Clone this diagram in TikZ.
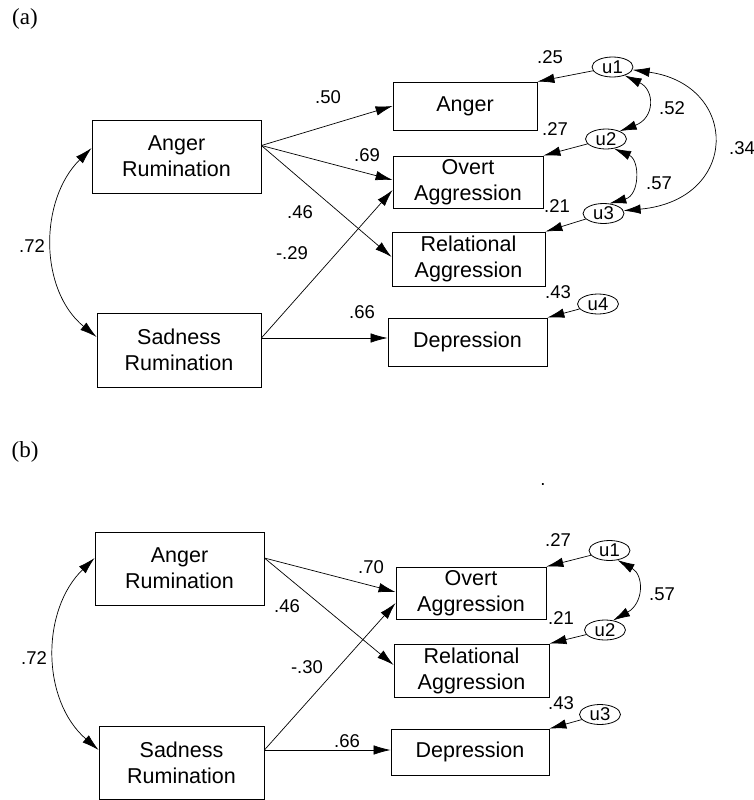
\documentclass[tikz,border=0pt]{standalone}
\usepackage{fontspec}
\setmainfont{Liberation Sans}
\newfontfamily\serifpanel{Liberation Serif}
\usetikzlibrary{arrows.meta,shapes.geometric}
\begin{document}
\begin{tikzpicture}[x=1pt,y=-1pt,
  box/.style={draw,line width=0.8pt,inner sep=0pt,align=center,font=\fontsize{21.5}{26}\selectfont},
  err/.style={draw,ellipse,line width=0.8pt,inner sep=0pt,minimum width=41pt,minimum height=20pt,font=\fontsize{18.5}{18.5}\selectfont},
  coef/.style={font=\fontsize{18.5}{19}\selectfont,inner sep=0pt},
  panel/.style={font=\serifpanel\fontsize{23}{25}\selectfont,inner sep=0pt},
  reg/.style={line width=0.7pt,-{Latex[length=17pt,width=9.5pt]}},
  cov/.style={line width=0.7pt,{Latex[length=17pt,width=9.5pt]}-{Latex[length=17pt,width=9.5pt]}},
]
\useasboundingbox (0,0) rectangle (754,800);

% ---------------- panel (a) ----------------
\node[panel] (pa) at (25,19) {(a)};
\node[box,minimum width=169pt,minimum height=73pt] (aAR) at (176.5,156.5) {Anger\\Rumination};
\node[box,minimum width=164pt,minimum height=74pt] (aSR) at (179,350) {Sadness\\Rumination};
\node[box,minimum width=144pt,minimum height=48pt] (aAng) at (465,106) {Anger};
\node[box,minimum width=150pt,minimum height=52pt] (aOA) at (468,182) {Overt\\Aggression};
\node[box,minimum width=153pt,minimum height=54pt] (aRA) at (468.5,259) {Relational\\Aggression};
\node[box,minimum width=159pt,minimum height=48pt] (aDep) at (467.5,342) {Depression};
\node[err] (au1) at (612.5,67) {u1};
\node[err] (au2) at (606,139) {u2};
\node[err] (au3) at (603.5,213.5) {u3};
\node[err] (au4) at (598,304) {u4};

\draw[reg] ([yshift=11pt]aAR.east) -- (aAng.west);
\draw[reg] ([yshift=11pt]aAR.east) -- ([yshift=2pt]aOA.west);
\draw[reg] ([yshift=11pt]aAR.east) -- ([yshift=2pt]aRA.west);
\draw[reg] ([yshift=12pt]aSR.east) -- ([yshift=-8pt]aOA.west);
\draw[reg] ([yshift=12pt]aSR.east) -- ([yshift=4pt]aDep.west);
\draw[cov] ([yshift=8.5pt]aAR.west) .. controls (39,200) and (39,290) .. ([yshift=13pt]aSR.west);

\draw[reg] (au1) -- (aAng.north east);
\draw[reg] (au2) -- (aOA.north east);
\draw[reg] (au3) -- (aRA.north east);
\draw[reg] (au4) -- (aDep.north east);
\draw[cov] (au1.-35) .. controls (655,90) and (655,118) .. (au2.30);
\draw[cov] (au2.-50) .. controls (640,160) and (640,195) .. (au3.60);
\draw[cov] (au1.-8) .. controls (740,85) and (740,200) .. (au3.8);

\node[coef] (la1) at (550,57) {.25};
\node[coef] (la2) at (555,129) {.27};
\node[coef] (la3) at (557,206) {.21};
\node[coef] (la4) at (558,292) {.43};
\node[coef] (la5) at (672,108) {.52};
\node[coef] (la6) at (659,183) {.57};
\node[coef] (la7) at (742,148) {.34};
\node[coef] (la8) at (328,97) {.50};
\node[coef] (la9) at (367,155) {.69};
\node[coef] (la10) at (300,212) {.46};
\node[coef] (la11) at (292,253) {-.29};
\node[coef] (la12) at (362,312) {.66};
\node[coef] (la13) at (32,246) {.72};

% ---------------- panel (b) ----------------
\node[panel] (pb) at (25,452) {(b)};
\node[coef] (dot) at (543,485) {.};
\node[box,minimum width=169pt,minimum height=73pt] (bAR) at (179.5,568.5) {Anger\\Rumination};
\node[box,minimum width=165pt,minimum height=73pt] (bSR) at (181.5,762.5) {Sadness\\Rumination};
\node[box,minimum width=150pt,minimum height=52pt] (bOA) at (471,593) {Overt\\Aggression};
\node[box,minimum width=155pt,minimum height=53pt] (bRA) at (471.5,670.5) {Relational\\Aggression};
\node[box,minimum width=158pt,minimum height=46pt] (bDep) at (470,752) {Depression};
\node[err] (bu1) at (609.5,550.5) {u1};
\node[err] (bu2) at (605,630) {u2};
\node[err] (bu3) at (600,714.5) {u3};

\draw[reg] ([yshift=10.5pt]bAR.east) -- ([yshift=1pt]bOA.west);
\draw[reg] ([yshift=10.5pt]bAR.east) -- ([yshift=5.5pt]bRA.west);
\draw[reg] ([yshift=12.5pt]bSR.east) -- ([yshift=-10pt]bOA.west);
\draw[reg] ([yshift=12.5pt]bSR.east) -- ([yshift=2pt]bDep.west);
\draw[cov] ([yshift=10.5pt]bAR.west) .. controls (41,610) and (41,700) .. ([yshift=12.5pt]bSR.west);

\draw[reg] (bu1) -- (bOA.north east);
\draw[reg] (bu2) -- (bRA.north east);
\draw[reg] (bu3) -- (bDep.north east);
\draw[cov] (bu1.-50) .. controls (644,575) and (644,603) .. (bu2.50);

\node[coef] (lb1) at (558,540) {.27};
\node[coef] (lb2) at (561,618) {.21};
\node[coef] (lb3) at (561,703) {.43};
\node[coef] (lb4) at (662,594) {.57};
\node[coef] (lb5) at (371,567) {.70};
\node[coef] (lb6) at (287,606) {.46};
\node[coef] (lb7) at (307,667) {-.30};
\node[coef] (lb8) at (347,741) {.66};
\node[coef] (lb9) at (34,658) {.72};
\end{tikzpicture}
\end{document}
